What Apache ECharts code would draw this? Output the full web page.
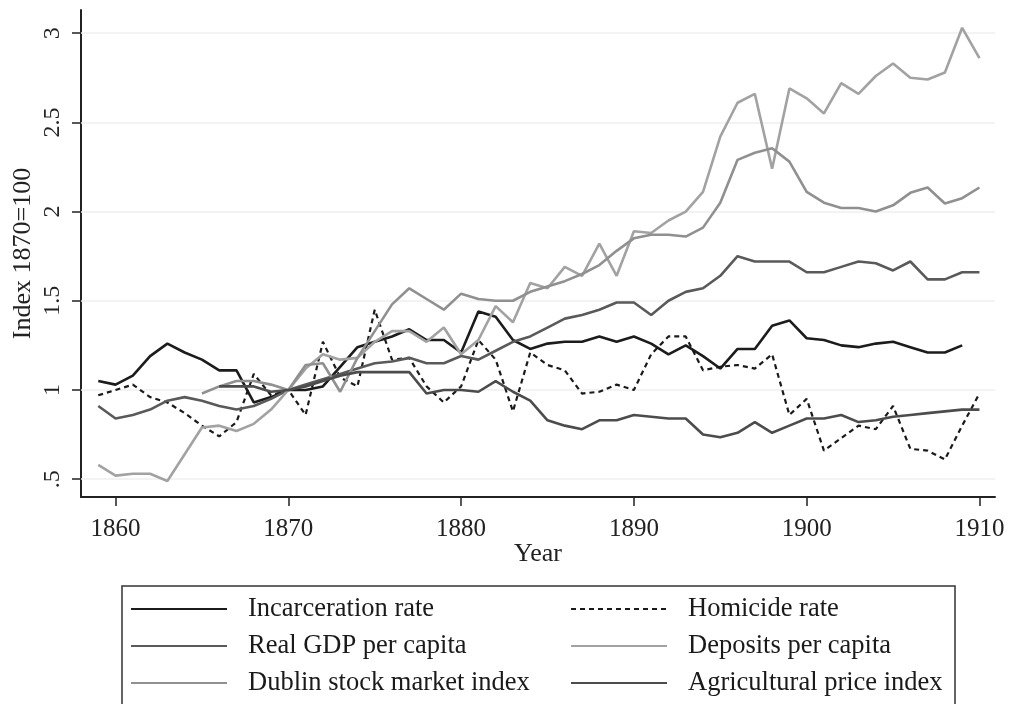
<!DOCTYPE html>
<html><head><meta charset="utf-8">
<script src="https://cdn.jsdelivr.net/npm/echarts@6/dist/echarts.min.js"></script>
<style>html,body{margin:0;padding:0;background:#fff}#c{width:1010px;height:704px}</style>
</head><body><div id="c"></div>
<script>
const years = [1859,1860,1861,1862,1863,1864,1865,1866,1867,1868,
  1869,1870,1871,1872,1873,1874,1875,1876,1877,1878,
  1879,1880,1881,1882,1883,1884,1885,1886,1887,1888,
  1889,1890,1891,1892,1893,1894,1895,1896,1897,1898,
  1899,1900,1901,1902,1903,1904,1905,1906,1907,1908,
  1909,1910];
const incarceration = [1.05,1.03,1.08,1.19,1.26,1.21,1.17,1.11,1.11,0.93,
  0.96,1.00,1.00,1.02,1.13,1.24,1.27,1.30,1.34,1.28,
  1.28,1.21,1.44,1.41,1.28,1.23,1.26,1.27,1.27,1.30,
  1.27,1.30,1.26,1.20,1.25,1.19,1.12,1.23,1.23,1.36,
  1.39,1.29,1.28,1.25,1.24,1.26,1.27,1.24,1.21,1.21,
  1.25,null];
const homicide = [0.97,1.00,1.03,0.96,0.93,0.87,0.80,0.74,0.82,1.09,
  0.97,1.00,0.86,1.27,1.07,1.02,1.45,1.17,1.18,1.02,
  0.93,1.02,1.28,1.17,0.88,1.21,1.14,1.11,0.98,0.99,
  1.03,1.00,1.20,1.30,1.30,1.11,1.13,1.14,1.12,1.20,
  0.86,0.95,0.66,0.73,0.80,0.78,0.91,0.67,0.66,0.61,
  0.80,0.98];
const realGdp = [0.91,0.84,0.86,0.89,0.94,0.96,0.94,0.91,0.89,0.91,
  0.95,1.00,1.03,1.06,1.09,1.12,1.15,1.16,1.18,1.15,
  1.15,1.19,1.17,1.22,1.27,1.30,1.35,1.40,1.42,1.45,
  1.49,1.49,1.42,1.50,1.55,1.57,1.64,1.75,1.72,1.72,
  1.72,1.66,1.66,1.69,1.72,1.71,1.67,1.72,1.62,1.62,
  1.66,1.66];
const deposits = [0.58,0.52,0.53,0.53,0.49,0.64,0.79,0.80,0.77,0.81,
  0.89,1.00,1.12,1.20,1.17,1.18,1.27,1.33,1.33,1.27,
  1.35,1.20,1.28,1.47,1.38,1.60,1.57,1.69,1.64,1.82,
  1.64,1.89,1.88,1.95,2.00,2.11,2.42,2.61,2.66,2.24,
  2.69,2.635,2.55,2.72,2.66,2.76,2.83,2.75,2.74,2.78,
  3.03,2.86];
const dublin = [null,null,null,null,null,null,0.98,1.02,1.05,1.05,
  1.03,1.00,1.14,1.15,0.99,1.18,1.33,1.48,1.57,1.51,
  1.45,1.54,1.51,1.50,1.50,1.55,1.58,1.61,1.65,1.70,
  1.78,1.85,1.87,1.87,1.86,1.91,2.05,2.29,2.33,2.355,
  2.28,2.11,2.05,2.02,2.02,2.00,2.035,2.105,2.135,2.045,
  2.075,2.135];
const agri = [null,null,null,null,null,null,null,1.02,1.02,1.02,
  0.99,1.00,1.02,1.05,1.08,1.10,1.10,1.10,1.10,0.98,
  1.00,1.00,0.99,1.05,0.99,0.94,0.83,0.80,0.78,0.83,
  0.83,0.86,0.85,0.84,0.84,0.75,0.735,0.76,0.82,0.76,
  0.80,0.84,0.84,0.86,0.82,0.83,0.85,0.86,0.87,0.88,
  0.89,0.89];
const xTicks = [1860,1870,1880,1890,1900,1910];
const yTicks = [0.5,1,1.5,2,2.5,3];
const yTickLabels = ['.5','1','1.5','2','2.5','3'];
const seriesNames = ['Incarceration rate','Homicide rate','Real GDP per capita','Deposits per capita','Dublin stock market index','Agricultural price index'];

const FONT = 'Liberation Serif';
function pairs(arr){ const out=[]; arr.forEach((v,i)=>{ if(v!==null) out.push([years[i],v]); }); return out; }
function mk(name, arr, color, width, type){
  return {name, type:'line', data:pairs(arr), showSymbol:false, symbol:'none', smooth:false,
    lineStyle:{color, width, type:type||'solid'}, itemStyle:{color}, emphasis:{disabled:true}, animation:false};
}
const s = [
  mk(seriesNames[0], incarceration, '#1c1c1c', 2.6),
  mk(seriesNames[1], homicide, '#1a1a1a', 2.2, [5,4]),
  mk(seriesNames[2], realGdp, '#5a5a5a', 2.6),
  mk(seriesNames[3], deposits, '#a2a2a2', 2.6),
  mk(seriesNames[4], dublin, '#909090', 2.6),
  mk(seriesNames[5], agri, '#4c4c4c', 2.6)
];
s[0].markLine = {silent:true, symbol:['none','none'], z:1, label:{show:false},
  lineStyle:{color:'#efefef', width:1.5, type:'solid'}, data: yTicks.map(v=>({yAxis:v})), animation:false};
s[0].z = 3;

const legendCommon = {orient:'vertical', itemWidth:96, itemHeight:14, itemGap:7, selectedMode:false,
  padding:0, height:130, itemStyle:{opacity:0},
  textStyle:{fontFamily:FONT, fontSize:26.5, color:'#1a1a1a', lineHeight:30, padding:[0,0,0,16]}};
const chart = echarts.init(document.getElementById('c'), null, {renderer:'canvas'});
chart.setOption({
  backgroundColor:'#ffffff',
  animation:false,
  grid:{left:81, right:15, top:10, bottom:207, containLabel:false},
  xAxis:{type:'value', min:1858, max:1910.9,
    axisLine:{show:true, onZero:false, lineStyle:{color:'#222', width:2}},
    axisTick:{show:true, customValues:xTicks, length:9, lineStyle:{color:'#222', width:1.5}},
    axisLabel:{customValues:xTicks, fontFamily:FONT, fontSize:25, color:'#222', margin:20, formatter:v=>String(v)},
    splitLine:{show:false},
    name:'Year', nameLocation:'middle', nameGap:44, nameMoveOverlap:false,
    nameTextStyle:{fontFamily:FONT, fontSize:26, color:'#222'}},
  yAxis:{type:'value', min:0.4, max:3.13,
    axisLine:{show:true, onZero:false, lineStyle:{color:'#222', width:2}},
    axisTick:{show:true, customValues:yTicks, length:9, lineStyle:{color:'#222', width:1.5}},
    axisLabel:{customValues:yTicks, rotate:90, fontFamily:FONT, fontSize:24, color:'#222', margin:16,
      formatter:v=>{ const i = yTicks.findIndex(t=>Math.abs(t-v)<1e-6); return i>=0? yTickLabels[i]:''; }},
    splitLine:{show:false},
    name:'Index 1870=100', nameLocation:'middle', nameRotate:90, nameGap:45, nameMoveOverlap:false,
    nameTextStyle:{fontFamily:FONT, fontSize:26, color:'#222'}},
  legend:[
    Object.assign({left:130, top:594, data:[seriesNames[0],seriesNames[2],seriesNames[4]]}, legendCommon),
    Object.assign({left:570, top:594, data:[seriesNames[1],seriesNames[3],seriesNames[5]]}, legendCommon)
  ],
  graphic:[{type:'rect', shape:{x:122, y:586, width:833, height:130}, style:{fill:'none', stroke:'#333', lineWidth:1.5}, silent:true}],
  series:s
});
</script></body></html>
